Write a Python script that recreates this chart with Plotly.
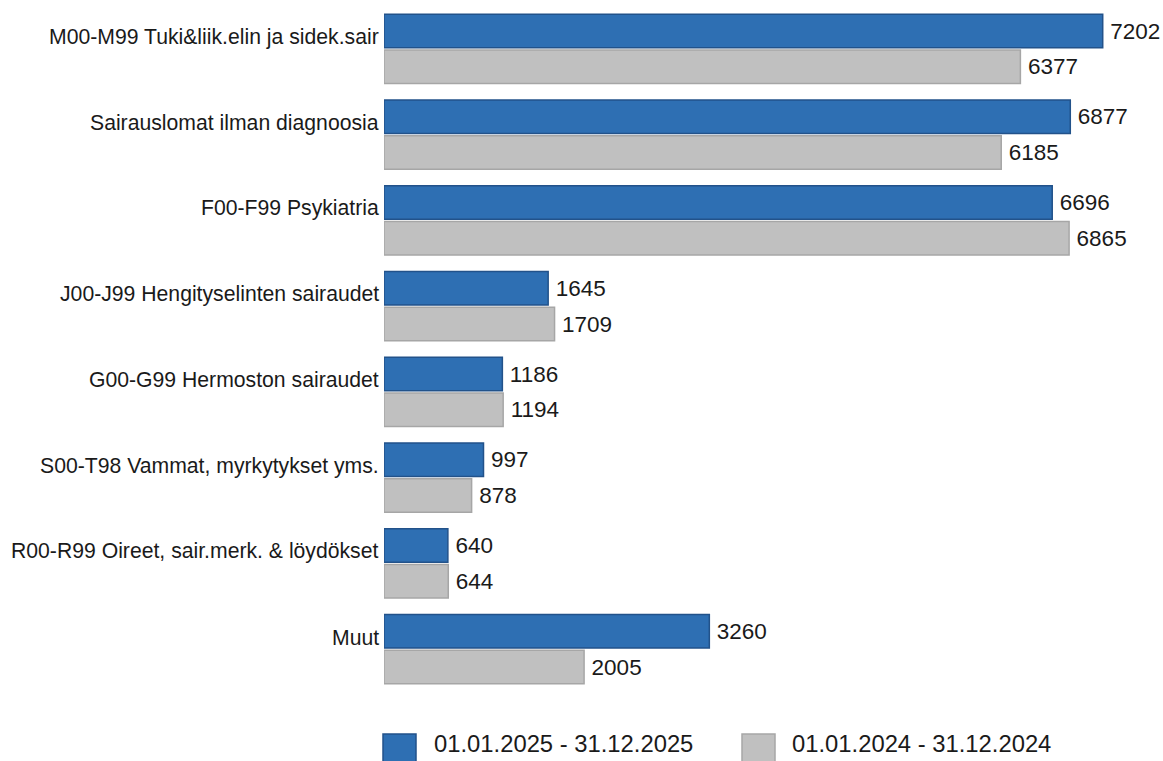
import plotly.graph_objects as go

categories = [
    "M00-M99 Tuki&liik.elin ja sidek.sair",
    "Sairauslomat ilman diagnoosia",
    "F00-F99 Psykiatria",
    "J00-J99 Hengityselinten sairaudet",
    "G00-G99 Hermoston sairaudet",
    "S00-T98 Vammat, myrkytykset yms.",
    "R00-R99 Oireet, sair.merk. & löydökset",
    "Muut",
]
series_names = ["01.01.2025 - 31.12.2025", "01.01.2024 - 31.12.2024"]
values_2025 = [7202, 6877, 6696, 1645, 1186, 997, 640, 3260]
values_2024 = [6377, 6185, 6865, 1709, 1194, 878, 644, 2005]

BLUE = "#2e6fb3"
BLUE_EDGE = "#22528a"
GRAY = "#c0c0c0"
GRAY_EDGE = "#a6a6a6"
FONT = "Liberation Sans, Arial, sans-serif"
TEXTC = "#1a1a1a"

fig = go.Figure()
for name, vals, col, edge in [
    (series_names[0], values_2025, BLUE, BLUE_EDGE),
    (series_names[1], values_2024, GRAY, GRAY_EDGE),
]:
    fig.add_trace(go.Bar(
        y=categories, x=vals, orientation="h", name=name,
        marker=dict(color=col, line=dict(color=edge, width=1.5)),
        text=["\u2009" + str(v) for v in vals], textposition="outside",
        textfont=dict(family=FONT, size=22.5, color=TEXTC),
        constraintext="none", cliponaxis=False, showlegend=False,
    ))

# category labels placed slightly above group centre
for c in categories:
    fig.add_annotation(
        x=0, xref="paper", y=c, yref="y", text=c, showarrow=False,
        xanchor="right", yanchor="middle", xshift=-3, yshift=12,
        font=dict(family=FONT, size=21.2, color=TEXTC),
    )

# custom legend
plot_h = 686.0
def py(pix):
    return (692.0 - pix) / plot_h
plot_w = 779.0
def px(pix):
    return (pix - 384.0) / plot_w

legend_items = [(383, 432, BLUE, BLUE_EDGE), (742, 790, GRAY, GRAY_EDGE)]
for (sx, tx, col, edge), name in zip(legend_items, series_names):
    fig.add_shape(type="rect", xref="paper", yref="paper",
                  x0=px(sx), x1=px(sx + 33), y0=py(734), y1=py(764),
                  fillcolor=col, line=dict(color=edge, width=1.5))
    fig.add_annotation(x=px(tx), xref="paper", y=py(744), yref="paper",
                       text=name, showarrow=False, xanchor="left",
                       yanchor="middle",
                       font=dict(family=FONT, size=23.8, color=TEXTC))

fig.update_layout(
    width=1163, height=761,
    margin=dict(l=384, r=0, t=6, b=69),
    barmode="group", bargap=0.166, bargroupgap=0.067,
    plot_bgcolor="white", paper_bgcolor="white",
    xaxis=dict(range=[0, 7806], visible=False, showgrid=False),
    yaxis=dict(autorange="reversed", showticklabels=False, showgrid=False,
               zeroline=False, showline=False, ticks=""),
    font=dict(family=FONT),
)

fig.write_html(
    "out.html",
    config={"displayModeBar": False},
    post_script="document.body.style.margin='0';document.body.style.padding='0';document.body.style.overflow='hidden';",
)
